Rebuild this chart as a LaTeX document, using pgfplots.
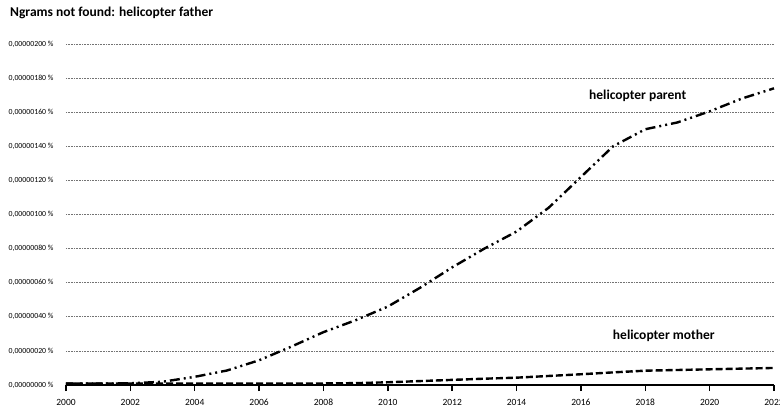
\documentclass[border=0pt]{standalone}
\usepackage{pgfplots}
\pgfplotsset{compat=1.18}
\usepackage{fontspec}
\setmainfont{Carlito}

\begin{document}
\begin{tikzpicture}
\begin{axis}[
  scale only axis,
  width=708bp, height=341bp,
  xmin=2000, xmax=2022,
  ymin=0, ymax=200,
  axis x line*=bottom,
  axis y line*=left,
  y axis line style={draw=none},
  x axis line style={line width=1.4bp, -},
  xtick={2000,2002,...,2022},
  xticklabels={2000,2002,2004,2006,2008,2010,2012,2014,2016,2018,2020,2022},
  xtick style={line width=1.4bp, black},
  ytick style={draw=none},
  tick align=outside,
  major tick length=6bp,
  xticklabel style={font=\fontsize{9.5bp}{11bp}\selectfont, anchor=north,
    text height=6.5bp, text depth=0bp, yshift=-4bp},
  ytick={0,20,...,200},
  yticklabels={{0,00000000 \%},{0,00000020 \%},{0,00000040 \%},{0,00000060 \%},{0,00000080 \%},{0,00000100 \%},{0,00000120 \%},{0,00000140 \%},{0,00000160 \%},{0,00000180 \%},{0,00000200 \%}},
  yticklabel style={font=\fontsize{7.8bp}{9bp}\selectfont, xshift=-3bp},
  ymajorgrids,
  major grid style={dash pattern=on 0.8bp off 0.8bp, black!55, line width=0.7bp},
  clip=false,
]
\coordinate (o) at (rel axis cs:0,0);

% helicopter parent
\addplot[black, line width=2.4bp,
  dash pattern=on 10bp off 4bp on 2bp off 4bp on 2bp off 4bp]
  coordinates {
  (2000,0.8) (2001,0.8) (2002,1.0) (2003,1.9) (2004,4.8) (2005,8.5)
  (2006,14.5) (2007,22.5) (2008,31) (2009,38) (2010,46) (2011,57)
  (2012,69) (2013,80) (2014,90) (2015,104) (2016,122) (2017,140)
  (2018,150) (2019,154) (2020,160.5) (2021,168) (2022,174)
  };

% helicopter mother
\addplot[black, line width=2.4bp, dash pattern=on 7bp off 3bp]
  coordinates {
  (2000,0.8) (2001,0.8) (2002,0.8) (2003,0.8) (2004,0.8) (2005,0.8)
  (2006,0.8) (2007,0.8) (2008,0.9) (2009,1.1) (2010,1.6) (2011,2.3)
  (2012,3.0) (2013,3.7) (2014,4.3) (2015,5.3) (2016,6.3) (2017,7.4)
  (2018,8.4) (2019,8.8) (2020,9.2) (2021,9.6) (2022,10.0)
  };

\node[anchor=base west, inner sep=0pt, font=\bfseries\fontsize{13.5bp}{15bp}\selectfont]
  at (axis cs:2016.25,167.7) {helicopter parent};
\node[anchor=base west, inner sep=0pt, font=\bfseries\fontsize{13.5bp}{15bp}\selectfont]
  at (axis cs:2016.99,26.8) {helicopter mother};
\end{axis}

\node[anchor=base west, inner sep=0pt, font=\bfseries\fontsize{13.5bp}{15bp}\selectfont]
  at ([shift={(-56bp,368bp)}]o) {Ngrams not found: helicopter father};

\pgfresetboundingbox
\path ([shift={(-66bp,-26bp)}]o) rectangle ([shift={(714bp,385bp)}]o);
\end{tikzpicture}
\end{document}
